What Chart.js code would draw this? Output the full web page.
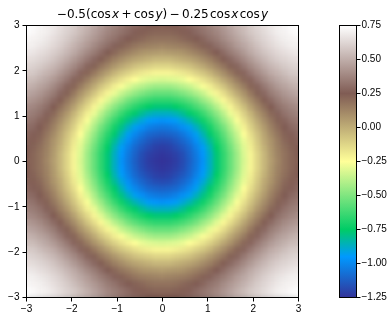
<!DOCTYPE html>
<html>
<head>
<meta charset="utf-8">
<script src="https://cdn.jsdelivr.net/npm/chart.js@4/dist/chart.umd.min.js"></script>
<style>
html, body { margin: 0; padding: 0; background: #fff; }
#wrap { position: relative; width: 392px; height: 320px; overflow: hidden; }
canvas { position: absolute; left: 0; top: 0; }
#titulo { position: absolute; left: 0; top: 7px; width: 325px; text-align: center; font: 12px "DejaVu Sans"; color: #000; white-space: nowrap; }
</style>
</head>
<body>
<div id="wrap">
<canvas id="mapa" width="392" height="320"></canvas>
<canvas id="barra" width="392" height="320"></canvas>
<div id="titulo">−0.5(cos&#8202;<i>x</i>&#8201;+&#8201;cos&#8202;<i>y</i>)&#8201;−&#8201;0.25&#8202;cos&#8202;<i>x</i>&#8202;cos&#8202;<i>y</i></div>
</div>
<script>
var xValues = [-3,-2.85,-2.7,-2.55,-2.4,-2.25,-2.1,-1.95,-1.8,-1.65,-1.5,-1.35,-1.2,-1.05,-0.9,-0.75,-0.6,-0.45,-0.3,-0.15,0,0.15,0.3,0.45,0.6,0.75,0.9,1.05,1.2,1.35,1.5,1.65,1.8,1.95,2.1,2.25,2.4,2.55,2.7,2.85,3];
var yValues = xValues;
var axisTicks = [-3,-2,-1,0,1,2,3];
var barTicks = [-1.25,-1,-0.75,-0.5,-0.25,0,0.25,0.5,0.75];

var r0 = [0.24,0.22,0.18,0.12,0.05,-0.03,-0.12,-0.22,-0.33,-0.44,-0.55,-0.66,-0.77,-0.87,-0.97,-1.05,-1.12,-1.18,-1.22,-1.24,-1.25,-1.24,-1.22,-1.18,-1.12,-1.05,-0.97,-0.87,-0.77,-0.66,-0.55,-0.44,-0.33,-0.22,-0.12,-0.03,0.05,0.12,0.18,0.22,0.24];
var r1 = [0.25,0.22,0.18,0.13,0.06,-0.03,-0.12,-0.22,-0.32,-0.44,-0.55,-0.66,-0.77,-0.87,-0.96,-1.04,-1.11,-1.17,-1.21,-1.23,-1.24,-1.23,-1.21,-1.17,-1.11,-1.04,-0.96,-0.87,-0.77,-0.66,-0.55,-0.44,-0.32,-0.22,-0.12,-0.03,0.06,0.13,0.18,0.22,0.25];
var r2 = [0.25,0.23,0.19,0.14,0.07,-0.01,-0.1,-0.2,-0.31,-0.42,-0.53,-0.64,-0.75,-0.85,-0.94,-1.02,-1.09,-1.14,-1.18,-1.21,-1.22,-1.21,-1.18,-1.14,-1.09,-1.02,-0.94,-0.85,-0.75,-0.64,-0.53,-0.42,-0.31,-0.2,-0.1,-0.01,0.07,0.14,0.19,0.23,0.25];
var r3 = [0.27,0.24,0.21,0.15,0.08,0.01,-0.08,-0.18,-0.29,-0.39,-0.5,-0.61,-0.71,-0.81,-0.9,-0.98,-1.05,-1.1,-1.14,-1.17,-1.18,-1.17,-1.14,-1.1,-1.05,-0.98,-0.9,-0.81,-0.71,-0.61,-0.5,-0.39,-0.29,-0.18,-0.08,0.01,0.08,0.15,0.21,0.24,0.27];
var r4 = [0.29,0.26,0.23,0.17,0.11,0.03,-0.06,-0.15,-0.25,-0.36,-0.46,-0.57,-0.67,-0.76,-0.85,-0.93,-1,-1.05,-1.09,-1.11,-1.12,-1.11,-1.09,-1.05,-1,-0.93,-0.85,-0.76,-0.67,-0.57,-0.46,-0.36,-0.25,-0.15,-0.06,0.03,0.11,0.17,0.23,0.26,0.29];
var r5 = [0.31,0.29,0.25,0.2,0.14,0.06,-0.02,-0.11,-0.21,-0.31,-0.41,-0.52,-0.61,-0.71,-0.79,-0.87,-0.93,-0.98,-1.02,-1.04,-1.05,-1.04,-1.02,-0.98,-0.93,-0.87,-0.79,-0.71,-0.61,-0.52,-0.41,-0.31,-0.21,-0.11,-0.02,0.06,0.14,0.2,0.25,0.29,0.31];
var r6 = [0.34,0.32,0.28,0.23,0.17,0.1,0.02,-0.07,-0.16,-0.26,-0.36,-0.45,-0.55,-0.64,-0.72,-0.79,-0.85,-0.9,-0.94,-0.96,-0.97,-0.96,-0.94,-0.9,-0.85,-0.79,-0.72,-0.64,-0.55,-0.45,-0.36,-0.26,-0.16,-0.07,0.02,0.1,0.17,0.23,0.28,0.32,0.34];
var r7 = [0.37,0.35,0.32,0.27,0.21,0.14,0.07,-0.02,-0.11,-0.2,-0.29,-0.39,-0.48,-0.56,-0.64,-0.71,-0.76,-0.81,-0.85,-0.87,-0.87,-0.87,-0.85,-0.81,-0.76,-0.71,-0.64,-0.56,-0.48,-0.39,-0.29,-0.2,-0.11,-0.02,0.07,0.14,0.21,0.27,0.32,0.35,0.37];
var r8 = [0.4,0.38,0.35,0.31,0.25,0.19,0.12,0.04,-0.05,-0.13,-0.22,-0.31,-0.4,-0.48,-0.55,-0.61,-0.67,-0.71,-0.75,-0.77,-0.77,-0.77,-0.75,-0.71,-0.67,-0.61,-0.55,-0.48,-0.4,-0.31,-0.22,-0.13,-0.05,0.04,0.12,0.19,0.25,0.31,0.35,0.38,0.4];
var r9 = [0.44,0.42,0.39,0.35,0.3,0.24,0.17,0.1,0.02,-0.07,-0.15,-0.23,-0.31,-0.39,-0.45,-0.52,-0.57,-0.61,-0.64,-0.66,-0.66,-0.66,-0.64,-0.61,-0.57,-0.52,-0.45,-0.39,-0.31,-0.23,-0.15,-0.07,0.02,0.1,0.17,0.24,0.3,0.35,0.39,0.42,0.44];
var r10 = [0.48,0.46,0.43,0.39,0.35,0.29,0.23,0.16,0.08,0.01,-0.07,-0.15,-0.22,-0.29,-0.36,-0.41,-0.46,-0.5,-0.53,-0.55,-0.55,-0.55,-0.53,-0.5,-0.46,-0.41,-0.36,-0.29,-0.22,-0.15,-0.07,0.01,0.08,0.16,0.23,0.29,0.35,0.39,0.43,0.46,0.48];
var r11 = [0.52,0.5,0.47,0.44,0.39,0.34,0.28,0.22,0.15,0.08,0.01,-0.07,-0.13,-0.2,-0.26,-0.31,-0.36,-0.39,-0.42,-0.44,-0.44,-0.44,-0.42,-0.39,-0.36,-0.31,-0.26,-0.2,-0.13,-0.07,0.01,0.08,0.15,0.22,0.28,0.34,0.39,0.44,0.47,0.5,0.52];
var r12 = [0.55,0.54,0.51,0.48,0.44,0.39,0.34,0.28,0.21,0.15,0.08,0.02,-0.05,-0.11,-0.16,-0.21,-0.25,-0.29,-0.31,-0.32,-0.33,-0.32,-0.31,-0.29,-0.25,-0.21,-0.16,-0.11,-0.05,0.02,0.08,0.15,0.21,0.28,0.34,0.39,0.44,0.48,0.51,0.54,0.55];
var r13 = [0.59,0.58,0.55,0.52,0.49,0.44,0.39,0.34,0.28,0.22,0.16,0.1,0.04,-0.02,-0.07,-0.11,-0.15,-0.18,-0.2,-0.22,-0.22,-0.22,-0.2,-0.18,-0.15,-0.11,-0.07,-0.02,0.04,0.1,0.16,0.22,0.28,0.34,0.39,0.44,0.49,0.52,0.55,0.58,0.59];
var r14 = [0.62,0.61,0.59,0.56,0.53,0.49,0.44,0.39,0.34,0.28,0.23,0.17,0.12,0.07,0.02,-0.02,-0.06,-0.08,-0.1,-0.12,-0.12,-0.12,-0.1,-0.08,-0.06,-0.02,0.02,0.07,0.12,0.17,0.23,0.28,0.34,0.39,0.44,0.49,0.53,0.56,0.59,0.61,0.62];
var r15 = [0.65,0.64,0.62,0.6,0.57,0.53,0.49,0.44,0.39,0.34,0.29,0.24,0.19,0.14,0.1,0.06,0.03,0.01,-0.01,-0.03,-0.03,-0.03,-0.01,0.01,0.03,0.06,0.1,0.14,0.19,0.24,0.29,0.34,0.39,0.44,0.49,0.53,0.57,0.6,0.62,0.64,0.65];
var r16 = [0.68,0.67,0.65,0.63,0.6,0.57,0.53,0.49,0.44,0.39,0.35,0.3,0.25,0.21,0.17,0.14,0.11,0.08,0.07,0.06,0.05,0.06,0.07,0.08,0.11,0.14,0.17,0.21,0.25,0.3,0.35,0.39,0.44,0.49,0.53,0.57,0.6,0.63,0.65,0.67,0.68];
var r17 = [0.7,0.7,0.68,0.66,0.63,0.6,0.56,0.52,0.48,0.44,0.39,0.35,0.31,0.27,0.23,0.2,0.17,0.15,0.14,0.13,0.12,0.13,0.14,0.15,0.17,0.2,0.23,0.27,0.31,0.35,0.39,0.44,0.48,0.52,0.56,0.6,0.63,0.66,0.68,0.7,0.7];
var r18 = [0.72,0.71,0.7,0.68,0.65,0.62,0.59,0.55,0.51,0.47,0.43,0.39,0.35,0.32,0.28,0.25,0.23,0.21,0.19,0.18,0.18,0.18,0.19,0.21,0.23,0.25,0.28,0.32,0.35,0.39,0.43,0.47,0.51,0.55,0.59,0.62,0.65,0.68,0.7,0.71,0.72];
var r19 = [0.74,0.73,0.71,0.7,0.67,0.64,0.61,0.58,0.54,0.5,0.46,0.42,0.38,0.35,0.32,0.29,0.26,0.24,0.23,0.22,0.22,0.22,0.23,0.24,0.26,0.29,0.32,0.35,0.38,0.42,0.46,0.5,0.54,0.58,0.61,0.64,0.67,0.7,0.71,0.73,0.74];
var r20 = [0.75,0.74,0.72,0.7,0.68,0.65,0.62,0.59,0.55,0.52,0.48,0.44,0.4,0.37,0.34,0.31,0.29,0.27,0.25,0.25,0.24,0.25,0.25,0.27,0.29,0.31,0.34,0.37,0.4,0.44,0.48,0.52,0.55,0.59,0.62,0.65,0.68,0.7,0.72,0.74,0.75];
var zRows = [r20,r19,r18,r17,r16,r15,r14,r13,r12,r11,r10,r9,r8,r7,r6,r5,r4,r3,r2,r1,r0,r1,r2,r3,r4,r5,r6,r7,r8,r9,r10,r11,r12,r13,r14,r15,r16,r17,r18,r19,r20];

var zMin = -1.25;
var zMax = 0.75;
var halfCell = 0.08;

// colormap terrain
var mapStops = [0, 0.15, 0.25, 0.5, 0.75, 1];
var mapColors = [[51,51,153],[0,153,255],[0,204,102],[255,255,153],[128,92,84],[255,255,255]];

function colorFor(z) {
    var t = Math.max(0, Math.min(1, (z - zMin) / (zMax - zMin)));
    var i = 0;
    while (i < mapStops.length - 2 && t > mapStops[i + 1]) {
        i++;
    }
    var f = (t - mapStops[i]) / (mapStops[i + 1] - mapStops[i]);
    var a = mapColors[i];
    var b = mapColors[i + 1];
    return 'rgb(' + Math.round(a[0] + (b[0] - a[0]) * f) + ',' + Math.round(a[1] + (b[1] - a[1]) * f) + ',' + Math.round(a[2] + (b[2] - a[2]) * f) + ')';
}

function minusLabel(v) {
    return String(v).replace('-', '\u2212');
}

function barGradient(context) {
    var area = context.chart.chartArea;
    if (!area) {
        return '#000';
    }
    var g = context.chart.ctx.createLinearGradient(0, area.bottom, 0, area.top);
    for (var i = 0; i < mapStops.length; i++) {
        g.addColorStop(mapStops[i], colorFor(zMin + mapStops[i] * (zMax - zMin)));
    }
    return g;
}

// suaviza las celdas, el mapa original esta interpolado
var suavizado = {
    id: 'suavizado',
    afterDatasetsDraw: function (chart) {
        var a = chart.chartArea;
        var ctx = chart.ctx;
        ctx.save();
        ctx.beginPath();
        ctx.rect(a.left, a.top, a.right - a.left, a.bottom - a.top);
        ctx.clip();
        ctx.filter = 'blur(2.2px)';
        ctx.drawImage(chart.canvas, a.left, a.top, a.right - a.left, a.bottom - a.top, a.left, a.top, a.right - a.left, a.bottom - a.top);
        ctx.restore();
    }
};

var marco = {
    id: 'marco',
    afterDraw: function (chart) {
        var a = chart.chartArea;
        var ctx = chart.ctx;
        ctx.save();
        ctx.strokeStyle = '#000';
        ctx.lineWidth = 1;
        ctx.strokeRect(a.left, a.top, a.right - a.left, a.bottom - a.top);
        ctx.restore();
    }
};

var tickFont = { family: 'Liberation Sans', size: 10 };

new Chart(document.getElementById('mapa').getContext('2d'), {
    type: 'bar',
    data: {
        datasets: yValues.map(function (y, i) {
            return {
                data: xValues.map(function (x) {
                    return { x: x, y: [y - halfCell, y + halfCell] };
                }),
                backgroundColor: zRows[i].map(colorFor),
                borderWidth: 0,
                barPercentage: 1.1,
                categoryPercentage: 1,
                grouped: false
            };
        })
    },
    options: {
        responsive: false,
        devicePixelRatio: 1,
        animation: false,
        layout: { padding: { left: 0, top: 25.5, right: 93.5, bottom: 0 } },
        plugins: { legend: { display: false }, tooltip: { enabled: false } },
        scales: {
            x: {
                type: 'linear',
                offset: false,
                min: -3,
                max: 3,
                afterBuildTicks: function (scale) {
                    scale.ticks = axisTicks.map(function (v) { return { value: v }; });
                },
                afterFit: function (scale) { scale.height = 22.5; },
                grid: { offset: false, drawOnChartArea: false, tickLength: 4, color: '#000' },
                border: { color: '#000' },
                ticks: { color: '#000', font: tickFont, padding: 2, maxRotation: 0, autoSkip: false, callback: minusLabel }
            },
            y: {
                type: 'linear',
                min: -3,
                max: 3,
                afterBuildTicks: function (scale) {
                    scale.ticks = axisTicks.map(function (v) { return { value: v }; });
                },
                afterFit: function (scale) { scale.width = 26.5; },
                grid: { drawOnChartArea: false, tickLength: 4, color: '#000' },
                border: { color: '#000' },
                ticks: { color: '#000', font: tickFont, padding: 3, autoSkip: false, callback: minusLabel }
            }
        }
    },
    plugins: [suavizado, marco]
});

new Chart(document.getElementById('barra').getContext('2d'), {
    type: 'bar',
    data: {
        labels: [''],
        datasets: [{
            data: [[zMin, zMax]],
            backgroundColor: barGradient,
            borderWidth: 0,
            barPercentage: 1,
            categoryPercentage: 1
        }]
    },
    options: {
        responsive: false,
        devicePixelRatio: 1,
        animation: false,
        layout: { padding: { left: 339.5, top: 25.5, right: 0, bottom: 22.5 } },
        plugins: { legend: { display: false }, tooltip: { enabled: false } },
        scales: {
            x: { display: false },
            y: {
                position: 'right',
                min: zMin,
                max: zMax,
                afterBuildTicks: function (scale) {
                    scale.ticks = barTicks.map(function (v) { return { value: v }; });
                },
                afterFit: function (scale) { scale.width = 35.5; },
                grid: { drawOnChartArea: false, tickLength: 4, color: '#000' },
                border: { color: '#000' },
                ticks: {
                    color: '#000', font: tickFont, padding: 1, autoSkip: false,
                    callback: function (v) { return minusLabel(v.toFixed(2)); }
                }
            }
        }
    },
    plugins: [marco]
});
</script>
</body>
</html>
